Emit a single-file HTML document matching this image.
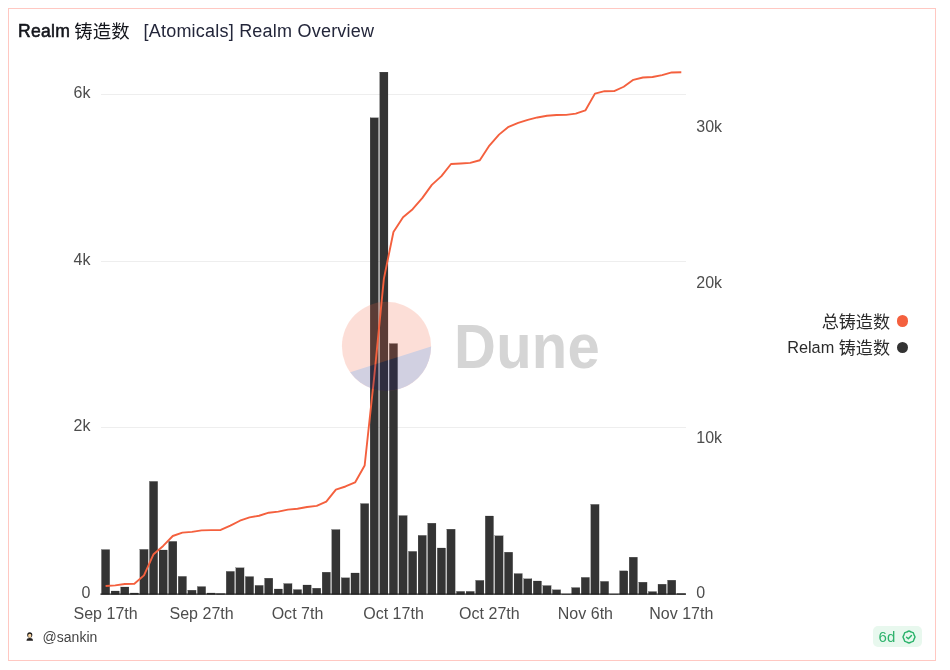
<!DOCTYPE html>
<html lang="zh"><head><meta charset="utf-8"><title>Realm 铸造数</title>
<style>
html,body{margin:0;padding:0;background:#fff;}
body{width:950px;height:670px;position:relative;overflow:hidden;font-family:"Liberation Sans","Noto Sans CJK SC",sans-serif;}
.card{position:absolute;left:8px;top:8px;width:926px;height:651px;border:1px solid #ffc8c2;background:#fff;}
.title{position:absolute;left:17.9px;top:20px;height:22px;line-height:22px;font-size:18px;color:#14161c;white-space:nowrap;}
.title b{font-weight:400;font-size:17.6px;letter-spacing:0.3px;-webkit-text-stroke:0.55px #14161c;}
.title .cj{font-size:18.4px;position:relative;top:1px;left:-0.9px;}
.title .sub{position:absolute;left:125.6px;top:0;color:#23263a;font-size:18px;letter-spacing:0.22px;}
.xt,.yl,.yr{position:absolute;font-size:16px;line-height:18px;color:#4d4d4d;white-space:nowrap;}
.xt{width:100px;text-align:center;top:604.6px;letter-spacing:0.02px;}
.yl{right:859.6px;text-align:right;}
.yr{left:696.3px;}
svg.chart{position:absolute;left:0;top:0;}
.wm{position:absolute;left:453.8px;top:311px;font-weight:700;font-size:63px;line-height:70px;color:#d5d5d5;letter-spacing:0.3px;transform:scaleX(0.92);transform-origin:0 0;white-space:nowrap;}
.lg{position:absolute;right:60px;font-size:16.3px;line-height:22px;color:#2b2b2b;white-space:nowrap;}
.lg .cj{font-size:17.1px;position:relative;top:1px;}
.dot{position:absolute;left:897.2px;width:11.2px;height:11.2px;border-radius:50%;}
.user{position:absolute;left:42.6px;top:629.4px;font-size:14px;line-height:16px;color:#454545;}
.badge{position:absolute;left:873px;top:626px;width:49.3px;height:21.4px;border-radius:5px;background:#e8f8ee;}
.badge span{position:absolute;left:5.6px;top:2.6px;font-size:15px;line-height:16px;color:#2eb36c;}
</style></head><body>
<div class="card"></div>
<div class="title"><b>Realm</b> <span class="cj">铸造数</span><span class="sub">[Atomicals] Realm Overview</span></div>
<svg class="chart" width="950" height="670" viewBox="0 0 950 670">
<g stroke="#eeeeee" stroke-width="1" shape-rendering="crispEdges"><line x1="100.6" x2="686" y1="94.4" y2="94.4"/><line x1="100.6" x2="686" y1="261.1" y2="261.1"/><line x1="100.6" x2="686" y1="427.7" y2="427.7"/></g>
<g fill="#343434" stroke="#2a2a2a" stroke-width="0.2"><rect x="101.47" y="549.60" width="8.25" height="44.80"/><rect x="111.07" y="591.00" width="8.25" height="3.40"/><rect x="120.66" y="587.00" width="8.25" height="7.40"/><rect x="130.26" y="593.00" width="8.25" height="1.40"/><rect x="139.85" y="549.40" width="8.25" height="45.00"/><rect x="149.45" y="481.40" width="8.25" height="113.00"/><rect x="159.05" y="550.00" width="8.25" height="44.40"/><rect x="168.64" y="541.40" width="8.25" height="53.00"/><rect x="178.24" y="576.40" width="8.25" height="18.00"/><rect x="187.83" y="590.20" width="8.25" height="4.20"/><rect x="197.43" y="586.60" width="8.25" height="7.80"/><rect x="207.02" y="593.00" width="8.25" height="1.40"/><rect x="216.62" y="593.60" width="8.25" height="0.80"/><rect x="226.21" y="571.40" width="8.25" height="23.00"/><rect x="235.81" y="567.80" width="8.25" height="26.60"/><rect x="245.40" y="576.60" width="8.25" height="17.80"/><rect x="255.00" y="585.40" width="8.25" height="9.00"/><rect x="264.59" y="578.20" width="8.25" height="16.20"/><rect x="274.19" y="589.00" width="8.25" height="5.40"/><rect x="283.78" y="583.60" width="8.25" height="10.80"/><rect x="293.38" y="589.60" width="8.25" height="4.80"/><rect x="302.97" y="585.00" width="8.25" height="9.40"/><rect x="312.56" y="588.20" width="8.25" height="6.20"/><rect x="322.16" y="572.20" width="8.25" height="22.20"/><rect x="331.75" y="529.60" width="8.25" height="64.80"/><rect x="341.35" y="577.80" width="8.25" height="16.60"/><rect x="350.95" y="573.00" width="8.25" height="21.40"/><rect x="360.54" y="503.60" width="8.25" height="90.80"/><rect x="370.13" y="117.80" width="8.25" height="476.60"/><rect x="379.73" y="72.10" width="8.25" height="522.30"/><rect x="389.33" y="343.60" width="8.25" height="250.80"/><rect x="398.92" y="515.60" width="8.25" height="78.80"/><rect x="408.51" y="551.40" width="8.25" height="43.00"/><rect x="418.11" y="535.40" width="8.25" height="59.00"/><rect x="427.71" y="523.20" width="8.25" height="71.20"/><rect x="437.30" y="548.00" width="8.25" height="46.40"/><rect x="446.89" y="529.20" width="8.25" height="65.20"/><rect x="456.49" y="591.40" width="8.25" height="3.00"/><rect x="466.09" y="591.40" width="8.25" height="3.00"/><rect x="475.68" y="580.40" width="8.25" height="14.00"/><rect x="485.27" y="516.00" width="8.25" height="78.40"/><rect x="494.87" y="535.80" width="8.25" height="58.60"/><rect x="504.47" y="552.20" width="8.25" height="42.20"/><rect x="514.06" y="573.60" width="8.25" height="20.80"/><rect x="523.65" y="578.80" width="8.25" height="15.60"/><rect x="533.25" y="581.00" width="8.25" height="13.40"/><rect x="542.85" y="585.60" width="8.25" height="8.80"/><rect x="552.44" y="589.80" width="8.25" height="4.60"/><rect x="562.04" y="594.10" width="8.25" height="0.30"/><rect x="571.63" y="587.60" width="8.25" height="6.80"/><rect x="581.23" y="577.40" width="8.25" height="17.00"/><rect x="590.82" y="504.40" width="8.25" height="90.00"/><rect x="600.42" y="581.40" width="8.25" height="13.00"/><rect x="610.01" y="594.20" width="8.25" height="0.20"/><rect x="619.61" y="570.90" width="8.25" height="23.50"/><rect x="629.20" y="557.20" width="8.25" height="37.20"/><rect x="638.80" y="582.20" width="8.25" height="12.20"/><rect x="648.39" y="591.60" width="8.25" height="2.80"/><rect x="657.99" y="584.20" width="8.25" height="10.20"/><rect x="667.58" y="580.20" width="8.25" height="14.20"/><rect x="677.18" y="593.60" width="8.25" height="0.80"/></g>
<line x1="100.4" x2="686" y1="594.2" y2="594.2" stroke="#1f1f1f" stroke-width="1.3"/>
<polyline fill="none" stroke="#f4603e" stroke-width="1.9" stroke-linejoin="round" points="105.60,586.03 115.19,585.39 124.79,584.01 134.38,583.75 143.98,575.34 153.57,554.22 163.17,545.92 172.76,536.01 182.36,532.65 191.95,531.86 201.55,530.41 211.14,530.14 220.74,529.99 230.34,525.70 239.93,520.72 249.53,517.40 259.12,515.72 268.72,512.69 278.31,511.68 287.90,509.66 297.50,508.76 307.10,507.01 316.69,505.85 326.28,501.70 335.88,489.59 345.48,486.48 355.07,482.48 364.66,465.51 374.26,376.44 383.86,278.82 393.45,231.94 403.04,217.22 412.64,209.18 422.24,198.15 431.83,184.85 441.43,176.17 451.02,163.99 460.62,163.43 470.21,162.87 479.81,160.25 489.40,145.60 499.00,134.64 508.59,126.76 518.19,122.87 527.78,119.95 537.38,117.45 546.97,115.81 556.57,114.95 566.16,114.89 575.75,113.62 585.35,110.44 594.95,93.62 604.54,91.19 614.13,91.15 623.73,86.76 633.33,79.81 642.92,77.53 652.52,77.00 662.11,75.10 671.71,72.44 681.30,72.29"/>
<g opacity="0.2"><circle cx="386.5" cy="346.4" r="44.6" fill="#f4603e"/>
<path d="M431.1 346.4 A44.6 44.6 0 0 1 350.2 372.3 Z" fill="#1e1870"/></g>
</svg>
<div class="wm">Dune</div>
<div class="xt" style="left:55.6px">Sep 17th</div><div class="xt" style="left:151.6px">Sep 27th</div><div class="xt" style="left:247.5px">Oct 7th</div><div class="xt" style="left:343.5px">Oct 17th</div><div class="xt" style="left:439.4px">Oct 27th</div><div class="xt" style="left:535.4px">Nov 6th</div><div class="xt" style="left:631.3px">Nov 17th</div><div class="yl" style="top:83.9px">6k</div><div class="yl" style="top:250.6px">4k</div><div class="yl" style="top:417.2px">2k</div><div class="yl" style="top:583.9px">0</div><div class="yr" style="top:118.4px">30k</div><div class="yr" style="top:273.6px">20k</div><div class="yr" style="top:428.8px">10k</div><div class="yr" style="top:583.9px">0</div>
<div class="lg" style="top:309.5px"><span class="cj">总铸造数</span></div>
<div class="lg" style="top:335.5px">Relam <span class="cj">铸造数</span></div>
<div class="dot" style="top:315.4px;background:#f4603e"></div>
<div class="dot" style="top:341.6px;background:#333"></div>
<svg style="position:absolute;left:26px;top:632px" width="8" height="9" viewBox="0 0 8 9"><circle cx="3.75" cy="2.9" r="2.55" fill="#1d1a19"/><ellipse cx="3.75" cy="3.7" rx="1.65" ry="1.9" fill="#f6d4a2"/><path d="M0.5 8.7 C0.5 6.6 1.8 5.9 3.75 5.9 C5.7 5.9 7 6.6 7 8.7 Z" fill="#232020"/></svg>
<div class="user">@sankin</div>
<div class="badge"><span>6d</span>
<svg style="position:absolute;left:27.97px;top:2.85px" width="16" height="16" viewBox="0 0 24 24" fill="none" stroke="#27b168" stroke-width="2.15" stroke-linecap="round" stroke-linejoin="round"><path d="M8.3 12.3l2.7 2.4 4.7-5M7.835 4.697a3.42 3.42 0 001.946-.806 3.42 3.42 0 014.438 0 3.42 3.42 0 001.946.806 3.42 3.42 0 013.138 3.138 3.42 3.42 0 00.806 1.946 3.42 3.42 0 010 4.438 3.42 3.42 0 00-.806 1.946 3.42 3.42 0 01-3.138 3.138 3.42 3.42 0 00-1.946.806 3.42 3.42 0 01-4.438 0 3.42 3.42 0 00-1.946-.806 3.42 3.42 0 01-3.138-3.138 3.42 3.42 0 00-.806-1.946 3.42 3.42 0 010-4.438 3.42 3.42 0 00.806-1.946 3.42 3.42 0 013.138-3.138z"/></svg></div>
</body></html>
